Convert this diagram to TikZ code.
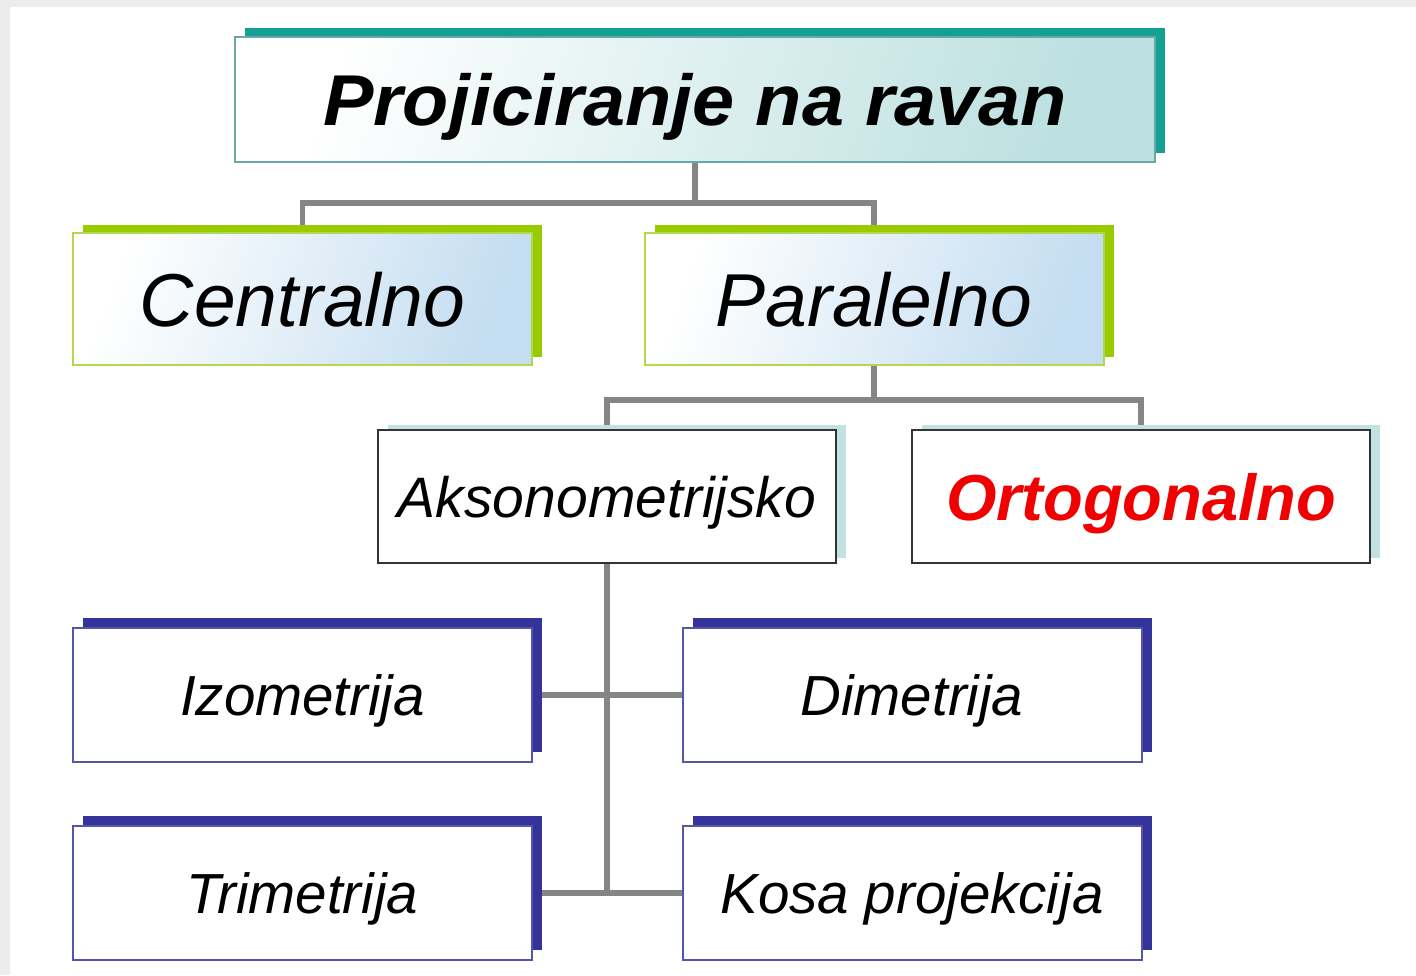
\documentclass[tikz,border=0pt]{standalone}
\usepackage{fontspec}
\setmainfont{Liberation Sans}
\newfontfamily\titlefont[FakeStretch=1.05]{Liberation Sans}
\usetikzlibrary{shadows,backgrounds}
\definecolor{bgray}{HTML}{ECECEC}
\definecolor{tealsh}{HTML}{14A092}
\definecolor{tealbd}{HTML}{6AA8A8}
\definecolor{tealfill}{HTML}{BDE0E0}
\definecolor{greensh}{HTML}{99CC00}
\definecolor{greenbd}{HTML}{B4D84A}
\definecolor{bluefill}{HTML}{C4DDF0}
\definecolor{lteal}{HTML}{C2E2E2}
\definecolor{darkbd}{HTML}{333333}
\definecolor{bluesh}{HTML}{333399}
\definecolor{bluebd}{HTML}{5555AA}
\definecolor{conncol}{HTML}{858585}
\definecolor{ortred}{HTML}{F00000}
\tikzset{
  x=1pt, y=-1pt,
  boxbase/.style={rectangle, inner sep=0pt, line width=2pt, text depth=0pt},
  titlebox/.style={boxbase, draw=tealbd, left color=white, right color=tealfill, shading angle=70,
    general shadow={fill=tealsh, shadow xshift=10pt, shadow yshift=9pt},
    minimum width=920pt, minimum height=125pt,
    font=\titlefont\fontsize{72}{80}\selectfont\bfseries\itshape},
  greenbox/.style={boxbase, draw=greenbd, left color=white, right color=bluefill, shading angle=70,
    general shadow={fill=greensh, shadow xshift=10pt, shadow yshift=8pt},
    minimum width=459pt, minimum height=132pt,
    font=\fontsize{75}{82}\selectfont\itshape},
  midbox/.style={boxbase, draw=darkbd, fill=white,
    general shadow={fill=lteal, shadow xshift=10pt, shadow yshift=5pt},
    minimum width=458pt, minimum height=133pt},
  bluebox/.style={boxbase, draw=bluebd, fill=white,
    general shadow={fill=bluesh, shadow xshift=10pt, shadow yshift=10pt},
    minimum width=459pt, minimum height=134pt,
    font=\fontsize{56.5}{62}\selectfont\itshape},
  conn/.style={draw=conncol, line width=5.5pt},
}
\begin{document}
\begin{tikzpicture}
\begin{pgfonlayer}{background}
  \fill[bgray] (0,0) rectangle (1416,975);
  \fill[white] (10,7) rectangle (1416,975);
\end{pgfonlayer}
\node[titlebox] (title) at (695,99.5) {Projiciranje na ravan};
\node[greenbox] (cen) at (302.5,299) {Centralno};
\node[greenbox] (par) at (874,299) {Paralelno};
\node[midbox, font=\fontsize{57}{62}\selectfont\itshape] (aks) at (607,496.5) {Aksonometrijsko};
\node[midbox, font=\fontsize{65}{72}\selectfont\bfseries\itshape, text=ortred] (ort) at (1141,496.5) {Ortogonalno};
\node[bluebox] (izo) at (302.5,695) {Izometrija};
\node[bluebox] (dim) at (912,695) {Dimetrija};
\node[bluebox] (tri) at (302.5,893) {Trimetrija};
\node[bluebox] (kos) at (912,893) {Kosa projekcija};
\coordinate (bus1) at (0,203);
\coordinate (bus2) at (0,400);
\begin{pgfonlayer}{background}
  \draw[conn] (title.south) -- (title.south |- bus1);
  \draw[conn] (cen.north) -- (cen.north |- bus1) -- (par.north |- bus1) -- (par.north);
  \draw[conn] (par.south) -- (par.south |- bus2);
  \draw[conn] (aks.north) -- (aks.north |- bus2) -- (ort.north |- bus2) -- (ort.north);
  \draw[conn] (aks.south) -- (aks.south |- tri.east);
  \draw[conn] (izo.east) -- (dim.west);
  \draw[conn] (tri.east) -- (kos.west);
\end{pgfonlayer}
\end{tikzpicture}
\end{document}
